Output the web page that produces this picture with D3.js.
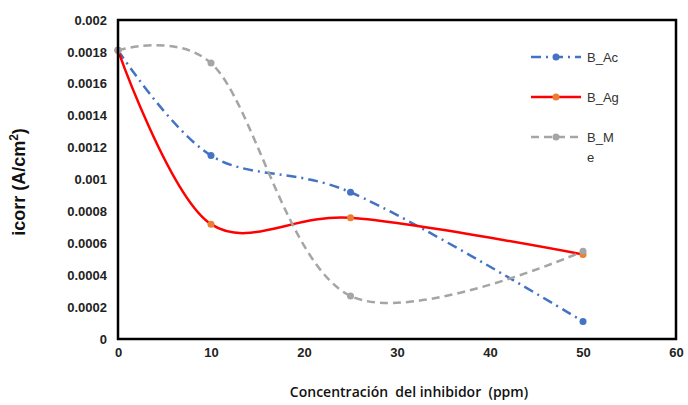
<!DOCTYPE html>
<html><head><meta charset="utf-8">
<script src="https://cdn.jsdelivr.net/npm/d3@7"></script>
<style>body{margin:0;background:#fff}svg{display:block}</style>
</head><body>
<script>
const xValues = [0, 10, 25, 50];
const seriesNames = ["B_Ac", "B_Ag", "B_Me"];
const bAc = [0.00181, 0.00115, 0.00092, 0.00011];
const bAg = [0.00181, 0.00072, 0.00076, 0.00053];
const bMe = [0.00181, 0.00173, 0.00027, 0.00055];
const xTicks = [0, 10, 20, 30, 40, 50, 60];
const yTicks = [0, 0.0002, 0.0004, 0.0006, 0.0008, 0.001, 0.0012, 0.0014, 0.0016, 0.0018, 0.002];

const W = 688, H = 405;
const m = {l: 118, r: 12, t: 20, b: 66};
const svg = d3.select("body").append("svg").attr("width", W).attr("height", H);
const x = d3.scaleLinear().domain([0, 60]).range([m.l, W - m.r]);
const y = d3.scaleLinear().domain([0, 0.002]).range([H - m.b, m.t]);

const styles = [
  {name: seriesNames[0], data: bAc, color: "#4472C4", marker: "#4472C4", dash: "10,5,2,5"},
  {name: seriesNames[1], data: bAg, color: "#FF0000", marker: "#ED7D31", dash: null},
  {name: seriesNames[2], data: bMe, color: "#A5A5A5", marker: "#A5A5A5", dash: "8,5"}
];

const line = d3.line().x(d => x(d[0])).y(d => y(d[1])).curve(d3.curveCatmullRom.alpha(0.2));
styles.forEach(s => {
  const pts = xValues.map((v, i) => [v, s.data[i]]);
  svg.append("path").attr("d", line(pts)).attr("fill", "none")
    .attr("stroke", s.color).attr("stroke-width", 2.5)
    .attr("stroke-dasharray", s.dash);
  svg.selectAll(null).data(pts).enter().append("circle")
    .attr("cx", d => x(d[0])).attr("cy", d => y(d[1])).attr("r", 3.5)
    .attr("fill", s.marker);
});

// frame
svg.append("rect").attr("x", m.l).attr("y", m.t).attr("width", W - m.r - m.l).attr("height", H - m.b - m.t)
  .attr("fill", "none").attr("stroke", "#000").attr("stroke-width", 2.5);

const font = "'Liberation Sans', Arial, sans-serif";
const yAxis = svg.append("g").attr("transform", `translate(${m.l},0)`)
  .call(d3.axisLeft(y).tickValues(yTicks).tickSize(0).tickPadding(11).tickFormat(d => d === 0 ? "0" : String(+d.toFixed(4))));
yAxis.select(".domain").remove();
yAxis.selectAll("text").attr("font-family", font).attr("font-size", 13).attr("font-weight", "bold").attr("fill", "#222");

const xAxis = svg.append("g").attr("transform", `translate(0,${H - m.b})`)
  .call(d3.axisBottom(x).tickValues(xTicks).tickSize(0).tickPadding(9).tickFormat(d3.format("d")));
xAxis.select(".domain").remove();
xAxis.selectAll("text").attr("font-family", font).attr("font-size", 13).attr("font-weight", "bold").attr("fill", "#222");

svg.append("text").attr("x", 409).attr("y", 397).attr("text-anchor", "middle")
  .attr("font-family", "'Open Sans', sans-serif").attr("font-size", 14).attr("font-weight", 600).attr("fill", "#111")
  .attr("xml:space", "preserve").text("Concentración  del inhibidor  (ppm)");

const yt = svg.append("text").attr("transform", "translate(25,182) rotate(-90)").attr("text-anchor", "middle")
  .attr("font-family", font).attr("font-size", 18).attr("font-weight", "bold").attr("fill", "#111");
yt.append("tspan").text("icorr (A/cm");
yt.append("tspan").attr("font-size", 12).attr("dy", -7).text("2");
yt.append("tspan").attr("dy", 7).text(")");

// legend
const lg = svg.append("g");
styles.forEach((s, i) => {
  const ly = 57 + i * 40;
  lg.append("line").attr("x1", 531).attr("x2", 581).attr("y1", ly).attr("y2", ly)
    .attr("stroke", s.color).attr("stroke-width", 2.5).attr("stroke-dasharray", s.dash);
  lg.append("circle").attr("cx", 556).attr("cy", ly).attr("r", 3.5).attr("fill", s.marker);
  const t = lg.append("text").attr("x", 587).attr("y", ly + 5)
    .attr("font-family", font).attr("font-size", 13).attr("fill", "#333");
  if (s.name === "B_Me") {
    t.append("tspan").text("B_M");
    t.append("tspan").attr("x", 587).attr("dy", 20).text("e");
  } else t.text(s.name);
});
</script>
</body></html>
